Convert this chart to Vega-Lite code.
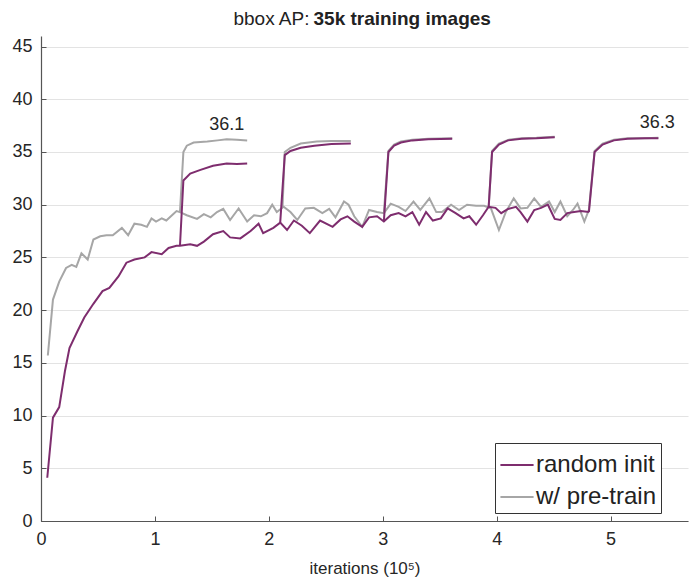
{
  "$schema": "https://vega.github.io/schema/vega-lite/v6.json",
  "width": 647,
  "height": 485,
  "autosize": {"type": "none"},
  "padding": {"left": 41, "top": 36, "right": 2, "bottom": 61},
  "background": "white",
  "config": {
    "view": {"stroke": null},
    "font": "Liberation Sans"
  },
  "layer": [
    {
      "data": {
        "values": [
          {"x": 0.06, "ap": 15.7, "model": "w/ pre-train", "run": "base"},
          {"x": 0.105, "ap": 21.0, "model": "w/ pre-train", "run": "base"},
          {"x": 0.16, "ap": 22.7, "model": "w/ pre-train", "run": "base"},
          {"x": 0.22, "ap": 24.0, "model": "w/ pre-train", "run": "base"},
          {"x": 0.27, "ap": 24.3, "model": "w/ pre-train", "run": "base"},
          {"x": 0.31, "ap": 24.1, "model": "w/ pre-train", "run": "base"},
          {"x": 0.355, "ap": 25.4, "model": "w/ pre-train", "run": "base"},
          {"x": 0.41, "ap": 24.8, "model": "w/ pre-train", "run": "base"},
          {"x": 0.46, "ap": 26.7, "model": "w/ pre-train", "run": "base"},
          {"x": 0.52, "ap": 27.0, "model": "w/ pre-train", "run": "base"},
          {"x": 0.575, "ap": 27.1, "model": "w/ pre-train", "run": "base"},
          {"x": 0.63, "ap": 27.1, "model": "w/ pre-train", "run": "base"},
          {"x": 0.71, "ap": 27.8, "model": "w/ pre-train", "run": "base"},
          {"x": 0.765, "ap": 27.1, "model": "w/ pre-train", "run": "base"},
          {"x": 0.82, "ap": 28.2, "model": "w/ pre-train", "run": "base"},
          {"x": 0.88, "ap": 28.1, "model": "w/ pre-train", "run": "base"},
          {"x": 0.93, "ap": 27.9, "model": "w/ pre-train", "run": "base"},
          {"x": 0.97, "ap": 28.7, "model": "w/ pre-train", "run": "base"},
          {"x": 1.01, "ap": 28.4, "model": "w/ pre-train", "run": "base"},
          {"x": 1.06, "ap": 28.7, "model": "w/ pre-train", "run": "base"},
          {"x": 1.1, "ap": 28.5, "model": "w/ pre-train", "run": "base"},
          {"x": 1.15, "ap": 29.0, "model": "w/ pre-train", "run": "base"},
          {"x": 1.19, "ap": 29.4, "model": "w/ pre-train", "run": "base"},
          {"x": 1.22, "ap": 29.3, "model": "w/ pre-train", "run": "base"},
          {"x": 1.28, "ap": 29.0, "model": "w/ pre-train", "run": "base"},
          {"x": 1.37, "ap": 28.65, "model": "w/ pre-train", "run": "base"},
          {"x": 1.43, "ap": 29.1, "model": "w/ pre-train", "run": "base"},
          {"x": 1.49, "ap": 28.8, "model": "w/ pre-train", "run": "base"},
          {"x": 1.545, "ap": 29.3, "model": "w/ pre-train", "run": "base"},
          {"x": 1.6, "ap": 29.6, "model": "w/ pre-train", "run": "base"},
          {"x": 1.66, "ap": 28.55, "model": "w/ pre-train", "run": "base"},
          {"x": 1.735, "ap": 29.65, "model": "w/ pre-train", "run": "base"},
          {"x": 1.81, "ap": 28.4, "model": "w/ pre-train", "run": "base"},
          {"x": 1.87, "ap": 29.0, "model": "w/ pre-train", "run": "base"},
          {"x": 1.93, "ap": 28.9, "model": "w/ pre-train", "run": "base"},
          {"x": 1.985, "ap": 29.2, "model": "w/ pre-train", "run": "base"},
          {"x": 2.03, "ap": 30.0, "model": "w/ pre-train", "run": "base"},
          {"x": 2.07, "ap": 29.3, "model": "w/ pre-train", "run": "base"},
          {"x": 2.13, "ap": 29.8, "model": "w/ pre-train", "run": "base"},
          {"x": 2.19, "ap": 29.3, "model": "w/ pre-train", "run": "base"},
          {"x": 2.25, "ap": 28.55, "model": "w/ pre-train", "run": "base"},
          {"x": 2.32, "ap": 29.65, "model": "w/ pre-train", "run": "base"},
          {"x": 2.395, "ap": 29.7, "model": "w/ pre-train", "run": "base"},
          {"x": 2.47, "ap": 29.2, "model": "w/ pre-train", "run": "base"},
          {"x": 2.53, "ap": 29.6, "model": "w/ pre-train", "run": "base"},
          {"x": 2.585, "ap": 28.8, "model": "w/ pre-train", "run": "base"},
          {"x": 2.66, "ap": 30.3, "model": "w/ pre-train", "run": "base"},
          {"x": 2.7, "ap": 30.0, "model": "w/ pre-train", "run": "base"},
          {"x": 2.75, "ap": 28.9, "model": "w/ pre-train", "run": "base"},
          {"x": 2.82, "ap": 27.9, "model": "w/ pre-train", "run": "base"},
          {"x": 2.88, "ap": 29.5, "model": "w/ pre-train", "run": "base"},
          {"x": 2.95, "ap": 29.3, "model": "w/ pre-train", "run": "base"},
          {"x": 3.01, "ap": 29.2, "model": "w/ pre-train", "run": "base"},
          {"x": 3.07, "ap": 30.1, "model": "w/ pre-train", "run": "base"},
          {"x": 3.14, "ap": 29.8, "model": "w/ pre-train", "run": "base"},
          {"x": 3.2, "ap": 29.4, "model": "w/ pre-train", "run": "base"},
          {"x": 3.27, "ap": 30.3, "model": "w/ pre-train", "run": "base"},
          {"x": 3.33, "ap": 29.5, "model": "w/ pre-train", "run": "base"},
          {"x": 3.41, "ap": 30.6, "model": "w/ pre-train", "run": "base"},
          {"x": 3.47, "ap": 29.3, "model": "w/ pre-train", "run": "base"},
          {"x": 3.52, "ap": 29.3, "model": "w/ pre-train", "run": "base"},
          {"x": 3.6, "ap": 30.0, "model": "w/ pre-train", "run": "base"},
          {"x": 3.67, "ap": 29.5, "model": "w/ pre-train", "run": "base"},
          {"x": 3.74, "ap": 30.0, "model": "w/ pre-train", "run": "base"},
          {"x": 3.82, "ap": 29.9, "model": "w/ pre-train", "run": "base"},
          {"x": 3.89, "ap": 29.9, "model": "w/ pre-train", "run": "base"},
          {"x": 3.95, "ap": 29.65, "model": "w/ pre-train", "run": "base"},
          {"x": 4.02, "ap": 27.6, "model": "w/ pre-train", "run": "base"},
          {"x": 4.08, "ap": 29.3, "model": "w/ pre-train", "run": "base"},
          {"x": 4.15, "ap": 30.6, "model": "w/ pre-train", "run": "base"},
          {"x": 4.21, "ap": 29.65, "model": "w/ pre-train", "run": "base"},
          {"x": 4.27, "ap": 29.7, "model": "w/ pre-train", "run": "base"},
          {"x": 4.33, "ap": 30.6, "model": "w/ pre-train", "run": "base"},
          {"x": 4.39, "ap": 29.8, "model": "w/ pre-train", "run": "base"},
          {"x": 4.46, "ap": 30.3, "model": "w/ pre-train", "run": "base"},
          {"x": 4.51, "ap": 29.3, "model": "w/ pre-train", "run": "base"},
          {"x": 4.56, "ap": 30.3, "model": "w/ pre-train", "run": "base"},
          {"x": 4.62, "ap": 28.9, "model": "w/ pre-train", "run": "base"},
          {"x": 4.67, "ap": 29.5, "model": "w/ pre-train", "run": "base"},
          {"x": 4.71, "ap": 30.1, "model": "w/ pre-train", "run": "base"},
          {"x": 4.77, "ap": 28.4, "model": "w/ pre-train", "run": "base"},
          {"x": 4.81, "ap": 29.5, "model": "w/ pre-train", "run": "base"},

          {"x": 1.22, "ap": 29.3, "model": "w/ pre-train", "run": "b1"},
          {"x": 1.25, "ap": 35.0, "model": "w/ pre-train", "run": "b1"},
          {"x": 1.28, "ap": 35.6, "model": "w/ pre-train", "run": "b1"},
          {"x": 1.34, "ap": 35.9, "model": "w/ pre-train", "run": "b1"},
          {"x": 1.46, "ap": 36.0, "model": "w/ pre-train", "run": "b1"},
          {"x": 1.55, "ap": 36.1, "model": "w/ pre-train", "run": "b1"},
          {"x": 1.63, "ap": 36.2, "model": "w/ pre-train", "run": "b1"},
          {"x": 1.72, "ap": 36.15, "model": "w/ pre-train", "run": "b1"},
          {"x": 1.81, "ap": 36.1, "model": "w/ pre-train", "run": "b1"},

          {"x": 2.12, "ap": 29.7, "model": "w/ pre-train", "run": "b2"},
          {"x": 2.14, "ap": 35.0, "model": "w/ pre-train", "run": "b2"},
          {"x": 2.19, "ap": 35.4, "model": "w/ pre-train", "run": "b2"},
          {"x": 2.28, "ap": 35.8, "model": "w/ pre-train", "run": "b2"},
          {"x": 2.42, "ap": 36.0, "model": "w/ pre-train", "run": "b2"},
          {"x": 2.55, "ap": 36.05, "model": "w/ pre-train", "run": "b2"},
          {"x": 2.72, "ap": 36.05, "model": "w/ pre-train", "run": "b2"},

          {"x": 3.01, "ap": 29.2, "model": "w/ pre-train", "run": "b3"},
          {"x": 3.05, "ap": 35.1, "model": "w/ pre-train", "run": "b3"},
          {"x": 3.1, "ap": 35.7, "model": "w/ pre-train", "run": "b3"},
          {"x": 3.16, "ap": 36.0, "model": "w/ pre-train", "run": "b3"},
          {"x": 3.26, "ap": 36.15, "model": "w/ pre-train", "run": "b3"},
          {"x": 3.4, "ap": 36.25, "model": "w/ pre-train", "run": "b3"},
          {"x": 3.61, "ap": 36.3, "model": "w/ pre-train", "run": "b3"},

          {"x": 3.93, "ap": 29.7, "model": "w/ pre-train", "run": "b4"},
          {"x": 3.96, "ap": 35.1, "model": "w/ pre-train", "run": "b4"},
          {"x": 4.02, "ap": 35.8, "model": "w/ pre-train", "run": "b4"},
          {"x": 4.1, "ap": 36.15, "model": "w/ pre-train", "run": "b4"},
          {"x": 4.22, "ap": 36.3, "model": "w/ pre-train", "run": "b4"},
          {"x": 4.35, "ap": 36.35, "model": "w/ pre-train", "run": "b4"},
          {"x": 4.51, "ap": 36.45, "model": "w/ pre-train", "run": "b4"},

          {"x": 4.81, "ap": 29.5, "model": "w/ pre-train", "run": "b5"},
          {"x": 4.86, "ap": 35.1, "model": "w/ pre-train", "run": "b5"},
          {"x": 4.93, "ap": 35.8, "model": "w/ pre-train", "run": "b5"},
          {"x": 5.03, "ap": 36.15, "model": "w/ pre-train", "run": "b5"},
          {"x": 5.15, "ap": 36.3, "model": "w/ pre-train", "run": "b5"},
          {"x": 5.3, "ap": 36.3, "model": "w/ pre-train", "run": "b5"},
          {"x": 5.42, "ap": 36.35, "model": "w/ pre-train", "run": "b5"},

          {"x": 0.055, "ap": 4.1, "model": "random init", "run": "base"},
          {"x": 0.105, "ap": 9.8, "model": "random init", "run": "base"},
          {"x": 0.16, "ap": 10.8, "model": "random init", "run": "base"},
          {"x": 0.21, "ap": 14.2, "model": "random init", "run": "base"},
          {"x": 0.25, "ap": 16.4, "model": "random init", "run": "base"},
          {"x": 0.32, "ap": 18.0, "model": "random init", "run": "base"},
          {"x": 0.38, "ap": 19.3, "model": "random init", "run": "base"},
          {"x": 0.46, "ap": 20.6, "model": "random init", "run": "base"},
          {"x": 0.54, "ap": 21.8, "model": "random init", "run": "base"},
          {"x": 0.6, "ap": 22.1, "model": "random init", "run": "base"},
          {"x": 0.68, "ap": 23.2, "model": "random init", "run": "base"},
          {"x": 0.75, "ap": 24.5, "model": "random init", "run": "base"},
          {"x": 0.82, "ap": 24.8, "model": "random init", "run": "base"},
          {"x": 0.91, "ap": 25.0, "model": "random init", "run": "base"},
          {"x": 0.97, "ap": 25.5, "model": "random init", "run": "base"},
          {"x": 1.06, "ap": 25.3, "model": "random init", "run": "base"},
          {"x": 1.12, "ap": 25.9, "model": "random init", "run": "base"},
          {"x": 1.19, "ap": 26.1, "model": "random init", "run": "base"},
          {"x": 1.22, "ap": 26.1, "model": "random init", "run": "base"},
          {"x": 1.31, "ap": 26.25, "model": "random init", "run": "base"},
          {"x": 1.37, "ap": 26.1, "model": "random init", "run": "base"},
          {"x": 1.43, "ap": 26.5, "model": "random init", "run": "base"},
          {"x": 1.51, "ap": 27.2, "model": "random init", "run": "base"},
          {"x": 1.6, "ap": 27.5, "model": "random init", "run": "base"},
          {"x": 1.66, "ap": 26.9, "model": "random init", "run": "base"},
          {"x": 1.75, "ap": 26.8, "model": "random init", "run": "base"},
          {"x": 1.84, "ap": 27.5, "model": "random init", "run": "base"},
          {"x": 1.91, "ap": 28.2, "model": "random init", "run": "base"},
          {"x": 1.95, "ap": 27.3, "model": "random init", "run": "base"},
          {"x": 2.04, "ap": 27.8, "model": "random init", "run": "base"},
          {"x": 2.1, "ap": 28.3, "model": "random init", "run": "base"},
          {"x": 2.16, "ap": 27.6, "model": "random init", "run": "base"},
          {"x": 2.22, "ap": 28.5, "model": "random init", "run": "base"},
          {"x": 2.29, "ap": 28.0, "model": "random init", "run": "base"},
          {"x": 2.36, "ap": 27.3, "model": "random init", "run": "base"},
          {"x": 2.45, "ap": 28.5, "model": "random init", "run": "base"},
          {"x": 2.56, "ap": 27.9, "model": "random init", "run": "base"},
          {"x": 2.63, "ap": 28.6, "model": "random init", "run": "base"},
          {"x": 2.69, "ap": 28.9, "model": "random init", "run": "base"},
          {"x": 2.75, "ap": 28.4, "model": "random init", "run": "base"},
          {"x": 2.82, "ap": 27.9, "model": "random init", "run": "base"},
          {"x": 2.88, "ap": 28.8, "model": "random init", "run": "base"},
          {"x": 2.95, "ap": 28.9, "model": "random init", "run": "base"},
          {"x": 3.01, "ap": 28.4, "model": "random init", "run": "base"},
          {"x": 3.07, "ap": 29.0, "model": "random init", "run": "base"},
          {"x": 3.14, "ap": 29.2, "model": "random init", "run": "base"},
          {"x": 3.2, "ap": 28.9, "model": "random init", "run": "base"},
          {"x": 3.26, "ap": 29.3, "model": "random init", "run": "base"},
          {"x": 3.32, "ap": 28.1, "model": "random init", "run": "base"},
          {"x": 3.38, "ap": 29.3, "model": "random init", "run": "base"},
          {"x": 3.44, "ap": 28.5, "model": "random init", "run": "base"},
          {"x": 3.51, "ap": 28.7, "model": "random init", "run": "base"},
          {"x": 3.57, "ap": 29.65, "model": "random init", "run": "base"},
          {"x": 3.64, "ap": 29.2, "model": "random init", "run": "base"},
          {"x": 3.71, "ap": 28.7, "model": "random init", "run": "base"},
          {"x": 3.76, "ap": 28.9, "model": "random init", "run": "base"},
          {"x": 3.82, "ap": 28.1, "model": "random init", "run": "base"},
          {"x": 3.88, "ap": 29.0, "model": "random init", "run": "base"},
          {"x": 3.93, "ap": 29.8, "model": "random init", "run": "base"},
          {"x": 3.99, "ap": 29.7, "model": "random init", "run": "base"},
          {"x": 4.04, "ap": 29.2, "model": "random init", "run": "base"},
          {"x": 4.1, "ap": 29.6, "model": "random init", "run": "base"},
          {"x": 4.17, "ap": 29.8, "model": "random init", "run": "base"},
          {"x": 4.21, "ap": 29.3, "model": "random init", "run": "base"},
          {"x": 4.27, "ap": 28.4, "model": "random init", "run": "base"},
          {"x": 4.33, "ap": 29.5, "model": "random init", "run": "base"},
          {"x": 4.39, "ap": 29.7, "model": "random init", "run": "base"},
          {"x": 4.45, "ap": 30.0, "model": "random init", "run": "base"},
          {"x": 4.51, "ap": 28.65, "model": "random init", "run": "base"},
          {"x": 4.56, "ap": 28.55, "model": "random init", "run": "base"},
          {"x": 4.62, "ap": 29.2, "model": "random init", "run": "base"},
          {"x": 4.68, "ap": 29.3, "model": "random init", "run": "base"},
          {"x": 4.74, "ap": 29.4, "model": "random init", "run": "base"},
          {"x": 4.81, "ap": 29.3, "model": "random init", "run": "base"},

          {"x": 1.22, "ap": 26.1, "model": "random init", "run": "b1"},
          {"x": 1.25, "ap": 32.3, "model": "random init", "run": "b1"},
          {"x": 1.31, "ap": 32.95, "model": "random init", "run": "b1"},
          {"x": 1.4, "ap": 33.3, "model": "random init", "run": "b1"},
          {"x": 1.51, "ap": 33.7, "model": "random init", "run": "b1"},
          {"x": 1.63, "ap": 33.9, "model": "random init", "run": "b1"},
          {"x": 1.72, "ap": 33.85, "model": "random init", "run": "b1"},
          {"x": 1.81, "ap": 33.9, "model": "random init", "run": "b1"},

          {"x": 2.1, "ap": 28.3, "model": "random init", "run": "b2"},
          {"x": 2.14, "ap": 34.7, "model": "random init", "run": "b2"},
          {"x": 2.19, "ap": 35.1, "model": "random init", "run": "b2"},
          {"x": 2.28, "ap": 35.4, "model": "random init", "run": "b2"},
          {"x": 2.4, "ap": 35.6, "model": "random init", "run": "b2"},
          {"x": 2.55, "ap": 35.75, "model": "random init", "run": "b2"},
          {"x": 2.72, "ap": 35.8, "model": "random init", "run": "b2"},

          {"x": 3.01, "ap": 28.4, "model": "random init", "run": "b3"},
          {"x": 3.05, "ap": 35.0, "model": "random init", "run": "b3"},
          {"x": 3.1, "ap": 35.6, "model": "random init", "run": "b3"},
          {"x": 3.16, "ap": 35.9, "model": "random init", "run": "b3"},
          {"x": 3.26, "ap": 36.1, "model": "random init", "run": "b3"},
          {"x": 3.4, "ap": 36.2, "model": "random init", "run": "b3"},
          {"x": 3.61, "ap": 36.25, "model": "random init", "run": "b3"},

          {"x": 3.93, "ap": 29.8, "model": "random init", "run": "b4"},
          {"x": 3.96, "ap": 35.0, "model": "random init", "run": "b4"},
          {"x": 4.02, "ap": 35.7, "model": "random init", "run": "b4"},
          {"x": 4.1, "ap": 36.1, "model": "random init", "run": "b4"},
          {"x": 4.22, "ap": 36.25, "model": "random init", "run": "b4"},
          {"x": 4.35, "ap": 36.3, "model": "random init", "run": "b4"},
          {"x": 4.51, "ap": 36.4, "model": "random init", "run": "b4"},

          {"x": 4.81, "ap": 29.3, "model": "random init", "run": "b5"},
          {"x": 4.86, "ap": 35.0, "model": "random init", "run": "b5"},
          {"x": 4.93, "ap": 35.7, "model": "random init", "run": "b5"},
          {"x": 5.03, "ap": 36.1, "model": "random init", "run": "b5"},
          {"x": 5.15, "ap": 36.25, "model": "random init", "run": "b5"},
          {"x": 5.3, "ap": 36.3, "model": "random init", "run": "b5"},
          {"x": 5.42, "ap": 36.3, "model": "random init", "run": "b5"}
        ]
      },
      "mark": {"type": "line", "strokeWidth": 2, "clip": true},
      "encoding": {
        "x": {
          "field": "x", "type": "quantitative",
          "scale": {"domain": [0, 5.68], "nice": false, "zero": false},
          "axis": {
            "orient": "bottom",
            "values": [0, 1, 2, 3, 4, 5],
            "title": "iterations (10⁵)",
            "titleFontSize": 17, "titleFontWeight": "normal", "titleColor": "#262626", "titlePadding": 12,
            "labelFontSize": 18, "labelColor": "#262626", "labelPadding": 14,
            "tickSize": -5, "tickColor": "#555555",
            "domainColor": "#555555", "domainWidth": 1.2,
            "grid": false, "labelFlush": false
          }
        },
        "y": {
          "field": "ap", "type": "quantitative",
          "scale": {"domain": [0, 46], "nice": false},
          "axis": {
            "orient": "left",
            "values": [0, 5, 10, 15, 20, 25, 30, 35, 40, 45],
            "title": null,
            "labelFontSize": 18, "labelColor": "#262626", "labelPadding": 14,
            "tickSize": -5, "tickColor": "#555555",
            "domainColor": "#555555", "domainWidth": 1.2,
            "grid": true, "gridColor": "#e3e3e3", "gridWidth": 1
          }
        },
        "color": {
          "field": "model", "type": "nominal",
          "scale": {"domain": ["random init", "w/ pre-train"], "range": ["#7e2d6e", "#a6a6a6"]},
          "legend": {
            "title": null,
            "orient": "none",
            "legendX": 454,
            "legendY": 407,
            "fillColor": "white",
            "strokeColor": "#333333",
            "padding": 4,
            "symbolType": "stroke",
            "symbolSize": 1100,
            "symbolStrokeWidth": 2,
            "labelFontSize": 24,
            "labelColor": "#222222",
            "labelOffset": 1,
            "rowPadding": 2,
            "labelLimit": 300
          }
        },
        "detail": {"field": "run", "type": "nominal"}
      }
    },
    {
      "data": {
        "values": [
          {"x": 1.63, "ap": 36.1, "label": "36.1"},
          {"x": 5.41, "ap": 36.3, "label": "36.3"}
        ]
      },
      "mark": {"type": "text", "dy": -15, "fontSize": 18, "color": "#262626", "clip": false},
      "encoding": {
        "x": {
          "field": "x", "type": "quantitative",
          "axis": {
            "orient": "top",
            "domain": false, "ticks": false, "labels": false, "grid": false,
            "title": "35k training images",
            "titleFontSize": 19, "titleFontWeight": "bold", "titleColor": "#222222",
            "titleAlign": "left", "titleAnchor": "start", "titleX": 272, "titleY": -18, "titleBaseline": "middle"
          }
        },
        "y": {
          "field": "ap", "type": "quantitative",
          "axis": {
            "orient": "right",
            "domain": false, "ticks": false, "labels": false, "grid": false,
            "title": "bbox AP:",
            "titleFontSize": 19, "titleFontWeight": "normal", "titleColor": "#222222",
            "titleAngle": 0, "titleAlign": "right", "titleAnchor": "start", "titleX": -379, "titleY": -18, "titleBaseline": "middle"
          }
        },
        "text": {"field": "label", "type": "nominal"}
      }
    }
  ],
  "resolve": {"axis": {"x": "independent", "y": "independent"}}
}
